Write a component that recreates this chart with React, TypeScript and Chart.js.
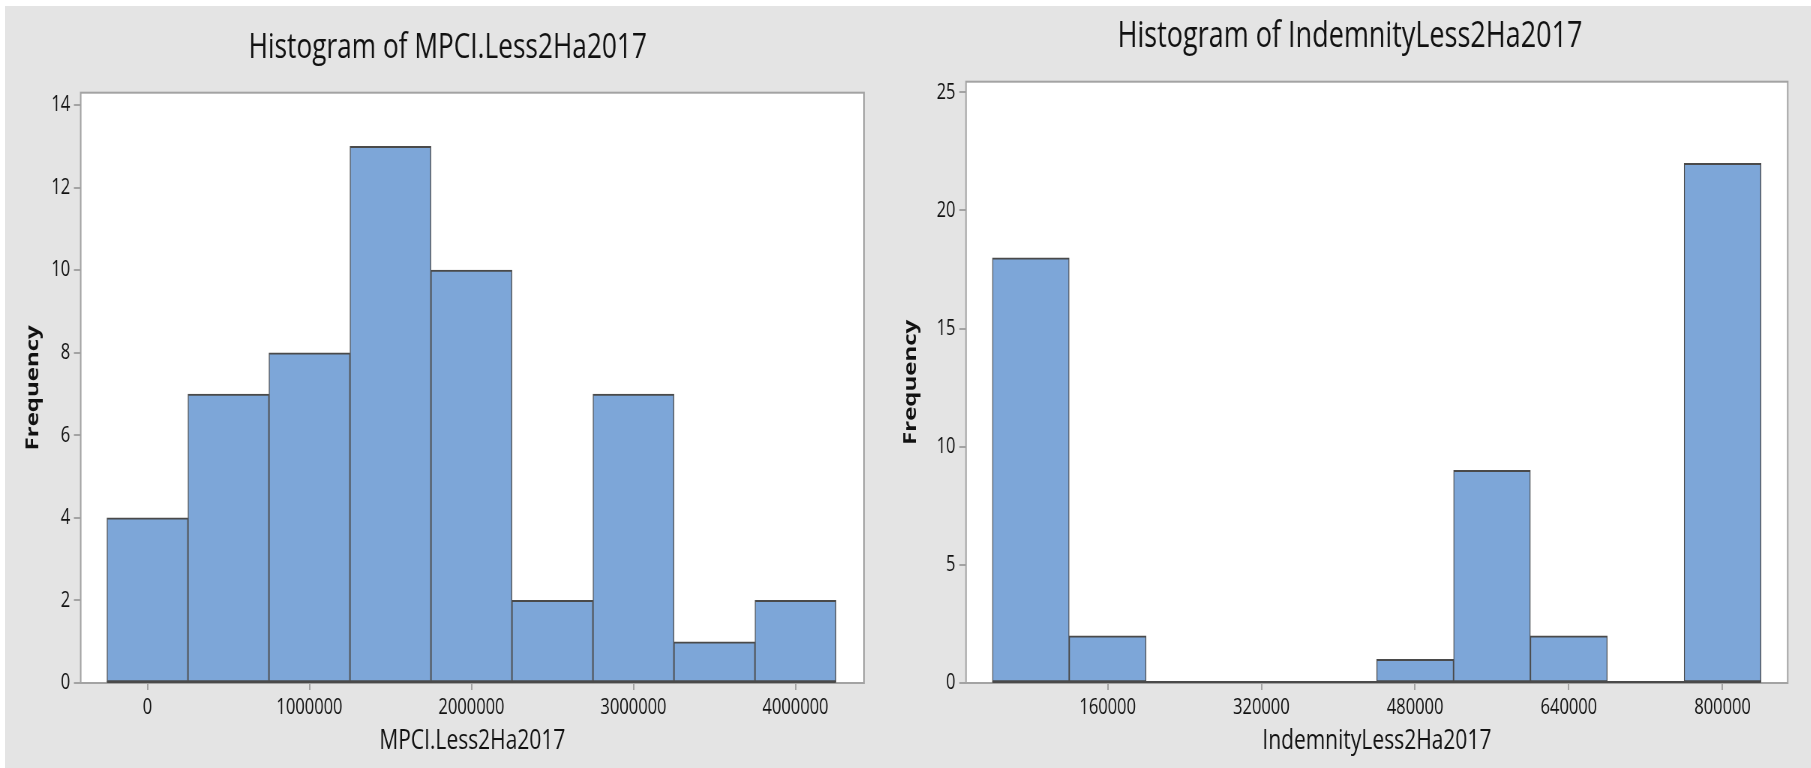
import React, { useEffect, useRef } from 'react';
import { Chart, registerables } from 'chart.js';

Chart.register(...registerables);

// ---------------- data ----------------
const mpciBinCenters = [0, 500000, 1000000, 1500000, 2000000, 2500000, 3000000, 3500000, 4000000];
const mpciFrequency = [4, 7, 8, 13, 10, 2, 7, 1, 2];
const mpciXTicks = [0, 1000000, 2000000, 3000000, 4000000];
const mpciYTicks = [0, 2, 4, 6, 8, 10, 12, 14];

const indemnityBinCenters = [80000, 160000, 240000, 320000, 400000, 480000, 560000, 640000, 720000, 800000];
const indemnityFrequency = [18, 2, 0, 0, 0, 1, 9, 2, 0, 22];
const indemnityXTicks = [160000, 320000, 480000, 640000, 800000];
const indemnityYTicks = [0, 5, 10, 15, 20, 25];

const mpciTitle = 'Histogram of MPCI.Less2Ha2017';
const mpciXLabel = 'MPCI.Less2Ha2017';
const indemnityTitle = 'Histogram of IndemnityLess2Ha2017';
const indemnityXLabel = 'IndemnityLess2Ha2017';
const yLabel = 'Frequency';

// ---------------- styles ----------------
const SQUASH = 0.75;
const FONT = "'Open Sans', 'Noto Sans', sans-serif";
const BG = '#e4e4e4';
const BAR_FILL = '#7da6d8';
const BAR_EDGE = '#4a4a4a';
const AXIS = '#a3a3a3';
const TEXT = '#111111';

const panels = [
  {
    key: 'mpci',
    left: 0,
    width: 1207,
    centers: mpciBinCenters,
    freq: mpciFrequency,
    xTicks: mpciXTicks,
    yTicks: mpciYTicks,
    xMin: -412000,
    xMax: 4423000,
    yMax: 14.3,
    title: mpciTitle,
    xLabel: mpciXLabel,
    titleSize: 35,
    titleTop: 27,
    titleBottom: 23.7,
    padLeft: 42,
    padRight: 55,
    yWidth: 65.6,
    yTitlePad: -12.4,
  },
  {
    key: 'indemnity',
    left: 880,
    width: 1241,
    centers: indemnityBinCenters,
    freq: indemnityFrequency,
    xTicks: indemnityXTicks,
    yTicks: indemnityYTicks,
    xMin: 12600,
    xMax: 867800,
    yMax: 25.45,
    title: indemnityTitle,
    xLabel: indemnityXLabel,
    titleSize: 36,
    titleTop: 15.4,
    titleBottom: 23.1,
    padLeft: 43,
    padRight: 30.7,
    yWidth: 71.7,
    yTitlePad: -16.1,
  },
];

const framePlugin = {
  id: 'plotFrame',
  beforeDraw(chart: any) {
    const { ctx, chartArea } = chart;
    const { left, top, right, bottom } = chartArea;
    ctx.save();
    ctx.fillStyle = '#ffffff';
    ctx.fillRect(left, top, right - left, bottom - top);
    ctx.restore();
  },
  beforeDatasetsDraw(chart: any) {
    const { ctx, chartArea } = chart;
    const { left, top, right, bottom } = chartArea;
    ctx.save();
    ctx.strokeStyle = AXIS;
    ctx.lineWidth = 2;
    ctx.strokeRect(left, top, right - left, bottom - top);
    ctx.restore();
  },
  afterDatasetsDraw(chart: any) {
    const meta = chart.getDatasetMeta(0);
    const bars = meta.data;
    if (!bars.length) return;
    const first: any = bars[0];
    const last: any = bars[bars.length - 1];
    const x0 = first.x - first.width / 2;
    const x1 = last.x + last.width / 2;
    const y = chart.scales.y.getPixelForValue(0);
    const ctx = chart.ctx;
    ctx.save();
    ctx.strokeStyle = BAR_EDGE;
    ctx.lineWidth = 2;
    ctx.beginPath();
    ctx.moveTo(x0, y - 1);
    ctx.lineTo(x1, y - 1);
    ctx.stroke();
    ctx.restore();
  },
};

function buildConfig(p: any): any {
  return {
    type: 'bar',
    data: {
      datasets: [
        {
          data: p.centers.map((c: number, i: number) => ({ x: c, y: p.freq[i] })),
          backgroundColor: BAR_FILL,
          borderColor: BAR_EDGE,
          borderWidth: { top: 2, bottom: 2, left: 1.3, right: 1.3 },
          borderSkipped: false,
          barPercentage: 1,
          categoryPercentage: 1,
          grouped: false,
        },
      ],
    },
    options: {
      animation: false,
      responsive: true,
      maintainAspectRatio: false,
      layout: { padding: { left: p.padLeft, right: p.padRight, top: 0, bottom: 0 } },
      plugins: {
        legend: { display: false },
        tooltip: { enabled: false },
        title: {
          display: true,
          text: p.title,
          color: TEXT,
          font: { family: FONT, size: p.titleSize, weight: '500' },
          padding: { top: p.titleTop, bottom: p.titleBottom },
        },
      },
      scales: {
        x: {
          type: 'linear',
          min: p.xMin,
          max: p.xMax,
          offset: false,
          afterBuildTicks: (s: any) => {
            s.ticks = p.xTicks.map((v: number) => ({ value: v }));
          },
          afterFit: (s: any) => {
            s.height = 85;
          },
          grid: { offset: false, drawOnChartArea: false, drawTicks: true, tickLength: 7, color: AXIS, lineWidth: 2 },
          border: { display: false },
          ticks: {
            callback: (v: any) => String(v),
            color: TEXT,
            font: { family: FONT, size: 22, weight: '500' },
            padding: 5,
            maxRotation: 0,
            minRotation: 0,
            autoSkip: false,
          },
          title: {
            display: true,
            text: p.xLabel,
            color: TEXT,
            font: { family: FONT, size: 28, weight: '500' },
            padding: { top: 0, bottom: 10 },
          },
        },
        y: {
          type: 'linear',
          min: 0,
          max: p.yMax,
          afterBuildTicks: (s: any) => {
            s.ticks = p.yTicks.map((v: number) => ({ value: v }));
          },
          afterFit: (s: any) => {
            s.width = p.yWidth;
          },
          grid: { drawOnChartArea: false, drawTicks: true, tickLength: 9, color: AXIS, lineWidth: 2 },
          border: { display: false },
          ticks: {
            callback: (v: any) => String(v),
            color: TEXT,
            font: { family: FONT, size: 22, weight: '500' },
            padding: 5,
          },
          title: {
            display: true,
            text: yLabel,
            color: TEXT,
            font: { family: FONT, size: 24, weight: 'bold' },
            padding: { top: p.yTitlePad, bottom: 0 },
          },
        },
      },
    },
    plugins: [framePlugin],
  };
}

function HistogramPanel({ spec }: { spec: any }) {
  const ref = useRef<HTMLCanvasElement>(null);
  useEffect(() => {
    if (!ref.current) return;
    const chart = new Chart(ref.current, buildConfig(spec));
    return () => chart.destroy();
  }, [spec]);
  return (
    <div
      style={{
        position: 'absolute',
        left: spec.left,
        top: 0,
        width: spec.width,
        height: 768,
        transform: `scaleX(${SQUASH})`,
        transformOrigin: '0 0',
      }}
    >
      <canvas ref={ref} />
    </div>
  );
}

export default function App() {
  return (
    <div
      style={{
        position: 'absolute',
        left: 0,
        top: 0,
        width: 1811,
        height: 768,
        background: '#ffffff',
        overflow: 'hidden',
      }}
    >
      <div style={{ position: 'absolute', left: 5, top: 6, right: 0, bottom: 0, background: BG }} />
      {panels.map((p) => (
        <HistogramPanel key={p.key} spec={p} />
      ))}
    </div>
  );
}
